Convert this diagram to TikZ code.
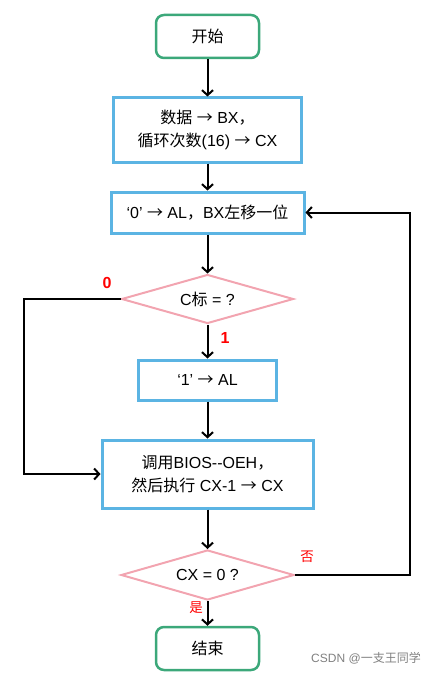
\documentclass[tikz,border=0pt]{standalone}
\usepackage{fontspec}
\setmainfont{Liberation Sans}
\newfontfamily\cjk{Noto Sans CJK SC}
\usetikzlibrary{shapes.geometric,arrows.meta}
\definecolor{procblue}{RGB}{91,180,227}
\definecolor{termgreen}{RGB}{60,168,122}
\definecolor{decpink}{RGB}{242,164,176}
\tikzset{
  term/.style={draw=termgreen,line width=2.5pt,rounded corners=8pt,
    minimum width=103pt,minimum height=43pt,font=\fontsize{16}{19}\selectfont},
  proc/.style={draw=procblue,line width=3pt,align=center,inner sep=0pt,
    font=\fontsize{16}{23}\selectfont},
  decide/.style={diamond,draw=decpink,line width=2pt,inner sep=0pt,aspect=3.5,
    font=\fontsize{16}{19}\selectfont},
  flow/.style={line width=2pt,-{Straight Barb[length=5pt,width=11pt]}},
  brlabel/.style={text=red,font=\bfseries\fontsize{16}{19}\selectfont},
  cnlabel/.style={text=red,font=\cjk\fontsize{13.5}{15}\selectfont}
}

\begin{document}
\begin{tikzpicture}[x=1pt,y=-1pt]
  \useasboundingbox (0,0) rectangle (438,674);
  % boxes, top to bottom
  \node[term] (start) at (207.5,36.5) {\cjk 开始};
  \node[proc,minimum width=188pt,minimum height=64pt] (data) at (207.5,130)
    {{\cjk 数据} {\cjk →} BX{\cjk ，}\\ {\cjk 循环次数}(16) {\cjk →} CX};
  \node[proc,minimum width=193pt,minimum height=41pt] (shift) at (207.5,212.5)
    {‘0’ {\cjk →} AL{\cjk ，}BX{\cjk 左移一位}};
  \node[decide,minimum width=172pt,minimum height=49pt] (cflag) at (207.5,299)
    {C{\cjk 标} = ?};
  \node[proc,minimum width=138pt,minimum height=40pt] (setone) at (207.5,380)
    {‘1’ {\cjk →} AL};
  \node[proc,minimum width=211pt,minimum height=68pt] (bios) at (207.5,474)
    {{\cjk 调用}BIOS-{}-OEH{\cjk ，}\\ {\cjk 然后执行} CX-1 {\cjk →} CX};
  \node[decide,minimum width=173pt,minimum height=50pt] (cxzero) at (207.5,575)
    {CX = 0 ?};
  \node[term] (stop) at (207.5,648.5) {\cjk 结束};
  % connectors
  \draw[flow] (start) -- (data);
  \draw[flow] (data) -- (shift);
  \draw[flow] (shift) -- (cflag);
  \draw[flow] (cflag) -- (setone);
  \draw[flow] (setone) -- (bios);
  \draw[flow] (bios) -- (cxzero);
  \draw[flow] (cxzero) -- (stop);
  \coordinate (zerobend) at (24,299);
  \coordinate (nobend) at (410,575);
  \draw[flow] (cflag.west) -- (zerobend) |- (bios.west);
  \draw[flow] (cxzero.east) -- (nobend) |- (shift.east);
  % branch labels
  \node[brlabel] (zero) at (107,283) {0};
  \node[brlabel] (one) at (225,338) {1};
  \node[cnlabel] (no) at (307,557) {否};
  \node[cnlabel] (yes) at (196,608) {是};
  \node[text=gray,font=\fontsize{12}{14}\selectfont] (mark) at (366,658)
    {CSDN @{\cjk 一支王同学}};
\end{tikzpicture}
\end{document}
